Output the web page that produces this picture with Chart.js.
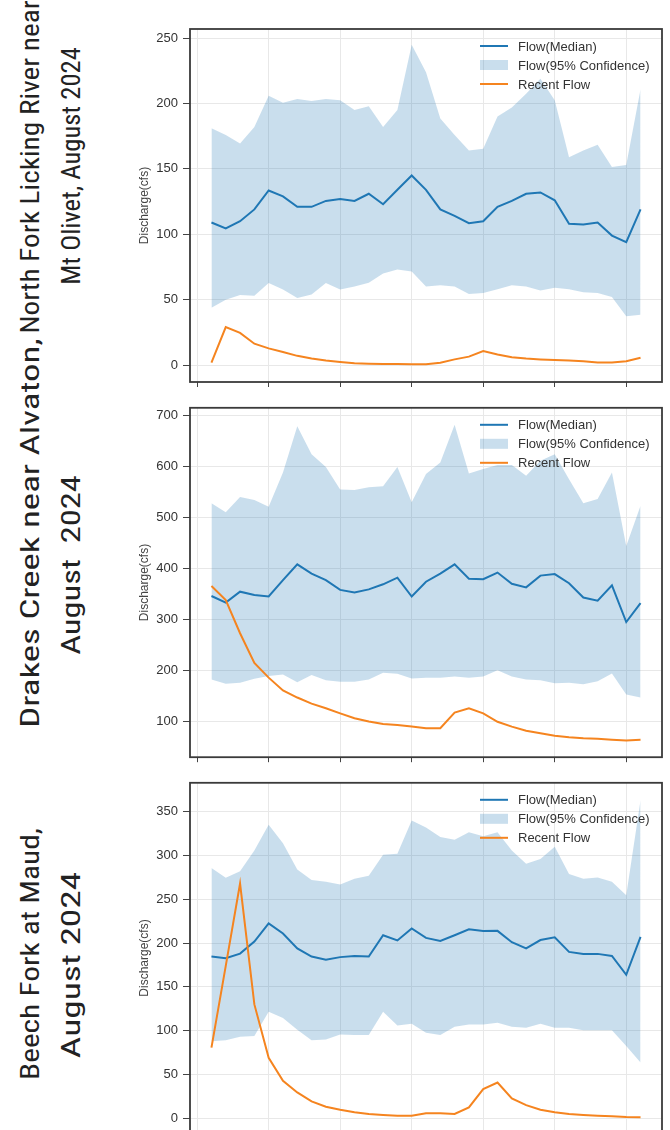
<!DOCTYPE html>
<html lang="en">
<head>
<meta charset="utf-8">
<title>Discharge, August 2024</title>
<script src="https://cdn.jsdelivr.net/npm/chart.js@4.4.1/dist/chart.umd.min.js"></script>
<style>
  html, body { margin: 0; padding: 0; background: #fff; overflow: hidden; }
  body { width: 670px; height: 1130px; position: relative; }
  .panel { position: absolute; left: 100px; }
  .ttl {
    position: absolute; white-space: pre; line-height: 1;
    font-family: "Liberation Sans Narrow", "Roboto Condensed", Roboto, sans-serif;
    font-stretch: condensed; font-size: 26px; color: #222;
  }
</style>
</head>
<body>

<div class="panel" style="top:0px"><canvas id="c1" width="570" height="395"></canvas></div>
<div class="panel" style="top:395px"><canvas id="c2" width="570" height="375"></canvas></div>
<div class="panel" style="top:770px"><canvas id="c3" width="570" height="376"></canvas></div>

<script>
// days of August 2024
var days = [1,2,3,4,5,6,7,8,9,10,11,12,13,14,15,16,17,18,19,20,21,22,23,24,25,26,27,28,29,30,31];
var xGridDays = [0,5,10,15,20,25,30];

// North Fork Licking River near Mt Olivet
var medianA = [109,104.5,110,119,133.5,129,121,121,125.5,127,125.5,131,123,134,145,134,119,114,108.5,110,121,125.5,131,132,126,108,107.5,109,99,94,119];
var upperA  = [181,176,169.5,182,206,200.5,203.5,202,203.5,202.5,195,198,182,195,245,224,188.5,176,164,165.5,190,197,207.5,219,202.5,159,164,168.5,151.5,153,211];
var lowerA  = [43.7,50,53.6,53,62.8,57.7,51.3,54,62.8,57.7,60,63,70,73,71.6,60,61,60,54.4,55,58,61,60,57,59,58,55.6,55,52,37.3,38.4];
var recentA = [1.8,29,24.6,16.3,12.7,10,7,5,3.5,2.3,1.3,1,0.8,0.8,0.6,0.6,1.8,4.3,6.4,10.7,8,6,5,4.3,3.8,3.5,2.8,2,2,2.8,5.6];
var yTicksA = [0,50,100,150,200,250];

// Drakes Creek near Alvaton
var medianB = [346,333,354.5,348,345,377,408,390,377,358,353,359,369,382,345,374,390,408,380,379,392,370,363,386,389,371,343,337,367,295,332];
var upperB  = [528,510,540,534,521,588,679,624,599,555,554,559,561,599,530,585,608,682,586,595,603,603,582,611,624,575,528,536,588,444,523];
var lowerB  = [182.5,174,176,184,189,192,177,191,181,178,178,182.5,195.5,193.5,184.5,186,186,188,186,188,200.6,188,182.5,181,175,176,173,179,194,153,147];
var recentB = [365.5,338,273,215,186,161,147,135,126,116,106.5,100,95,93,90,87,87,117.5,126,116,99.5,90,82,77,72,69,67,66,64,62.5,64];
var yTicksB = [100,200,300,400,500,600,700];

// Beech Fork at Maud
var medianC = [184.6,182.7,188,201.7,222.5,211,194,184.6,181,184,185.4,184.6,209,203,216.8,206,202.4,209,215.7,213.8,214,201,194,203.5,206.6,190,187.7,187.7,185.4,163.8,207];
var upperC  = [285.7,274.7,282,305.7,335,314,284,272,270,267,273.5,277,301,302,340,332,321,318,326.5,322,326.5,305.7,290.6,296,310,279,273.5,275,270,254.6,363];
var lowerC  = [88,89,93,94,121.5,114.6,101,89,90,95.7,95,95,121.5,106,108,97.6,95,104.4,107,107,109,104.4,103.3,108,103.3,103.3,100.6,100.6,100.6,82.5,63.6];
var recentC = [80.6,174,268,130,69,42.8,29.5,19.3,13.2,9.8,6.8,4.9,3.8,3,3,5.7,5.7,4.9,12.5,33.3,40.9,22.7,15,9.8,6.8,4.9,3.8,3,2.3,1.5,1.1];
var yTicksC = [0,50,100,150,200,250,300,350];

var legendLabels = ['Flow(Median)', 'Flow(95% Confidence)', 'Recent Flow'];

var BLUE = '#1f77b4';
var ORANGE = '#f5841f';
var BAND = 'rgba(31,119,180,0.24)';

// legend + dark frame around the plot area
var frameAndLegend = {
  id: 'frameAndLegend',
  afterDraw: function(chart) {
    var ctx = chart.ctx, a = chart.chartArea;
    ctx.save();
    ctx.strokeStyle = '#3a3a3a';
    ctx.lineWidth = 1.8;
    ctx.strokeRect(a.left, a.top, a.right - a.left, a.bottom - a.top);

    var x0 = a.right - 182, x1 = a.right - 154, tx = a.right - 144;
    ctx.font = '13px "Liberation Sans", Arial, sans-serif';
    ctx.textBaseline = 'middle';
    ctx.fillStyle = '#333';
    legendLabels.forEach(function(lab, i) {
      var y = a.top + 17 + i * 19;
      if (i == 1) {
        ctx.fillStyle = BAND;
        ctx.fillRect(x0, y - 5, x1 - x0, 10);
      } else {
        ctx.strokeStyle = i == 0 ? BLUE : ORANGE;
        ctx.lineWidth = 2;
        ctx.beginPath(); ctx.moveTo(x0, y); ctx.lineTo(x1, y); ctx.stroke();
      }
      ctx.fillStyle = '#333';
      ctx.fillText(lab, tx, y + 1);
    });
    ctx.restore();
  }
};

function makeChart(id, median, upper, lower, recent, yTicks, ymin, ymax, padTop, xHeight) {
  var ctx = document.getElementById(id).getContext('2d');
  return new Chart(ctx, {
    type: 'line',
    data: {
      labels: days,
      datasets: [
        { label: legendLabels[2], data: recent, borderColor: ORANGE, borderWidth: 2, fill: false },
        { label: legendLabels[0], data: median, borderColor: BLUE, borderWidth: 2, fill: false },
        { label: 'lower', data: lower, borderColor: 'rgba(0,0,0,0)', borderWidth: 0, fill: false },
        { label: legendLabels[1], data: upper, borderColor: 'rgba(0,0,0,0)', borderWidth: 0,
          backgroundColor: BAND, fill: { target: 2 } }
      ]
    },
    options: {
      responsive: false,
      animation: false,
      events: [],
      elements: { point: { radius: 0 }, line: { tension: 0 } },
      layout: { padding: { top: padTop, right: 8, left: 0, bottom: 0 } },
      plugins: { legend: { display: false }, tooltip: { enabled: false } },
      scales: {
        x: {
          type: 'linear', min: -0.5, max: 32.5,
          afterBuildTicks: function(s) { s.ticks = xGridDays.map(function(v) { return { value: v }; }); },
          afterFit: function(s) { s.height = xHeight; },
          ticks: { autoSkip: false, maxRotation: 0, callback: function() { return ''; } },
          grid: { color: '#e8e8e8', tickColor: '#444', tickLength: 5 },
          border: { display: false }
        },
        y: {
          min: ymin, max: ymax,
          afterBuildTicks: function(s) { s.ticks = yTicks.map(function(v) { return { value: v }; }); },
          afterFit: function(s) { s.width = 90; },
          ticks: { color: '#333', padding: 5, font: { family: '"Liberation Sans", Arial, sans-serif', size: 13 } },
          grid: { color: '#e8e8e8', tickColor: '#444', tickLength: 7 },
          border: { display: false },
          title: { display: true, text: 'Discharge(cfs)', color: '#444',
                   font: { family: '"Liberation Sans", Arial, sans-serif', size: 12 },
                   padding: { top: 37, bottom: 0 } }
        }
      }
    },
    plugins: [frameAndLegend]
  });
}

makeChart('c1', medianA, upperA, lowerA, recentA, yTicksA, -13, 257, 29, 13);
makeChart('c2', medianB, upperB, lowerB, recentB, yTicksB, 30, 715, 12, 12);
makeChart('c3', medianC, upperC, lowerC, recentC, yTicksC, -17, 383, 12, 12);

// rotated two-line titles on the left
var titles = [
  ['North Fork Licking River near', 30, 167, 333],
  ['Mt Olivet, August 2024', 71, 166, 237],
  ['Drakes Creek near Alvaton,', 30, 533, 389],
  ['August  2024', 71, 565, 180],
  ['Beech Fork at Maud,', 30, 954, 252],
  ['August 2024', 71, 965, 187]
];
titles.forEach(function(t) {
  var el = document.createElement('div');
  el.className = 'ttl';
  el.textContent = t[0];
  document.body.appendChild(el);
  var s = t[3] / el.offsetWidth;
  el.style.left = t[1] + 'px';
  el.style.top = t[2] + 'px';
  el.style.transform = 'translate(-50%,-50%) rotate(-90deg) scaleX(' + s.toFixed(3) + ')';
});
</script>
</body>
</html>
